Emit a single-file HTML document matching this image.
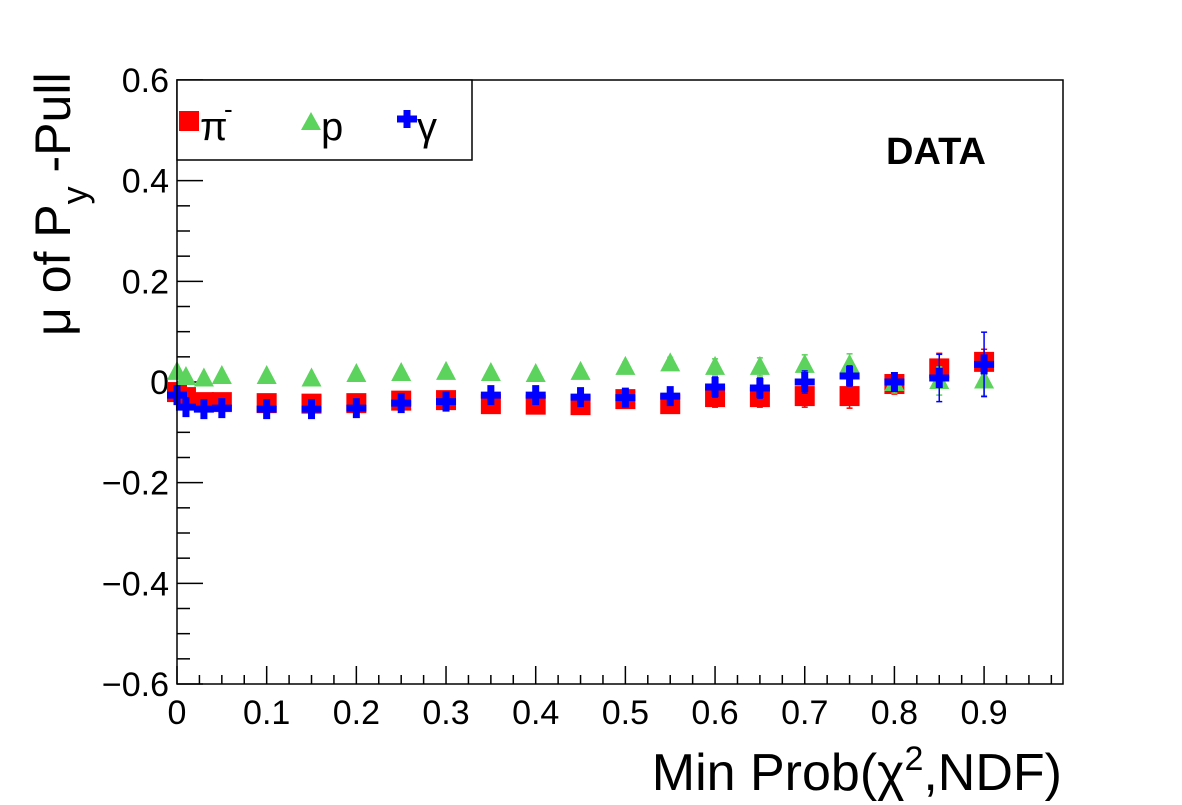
<!DOCTYPE html>
<html><head><meta charset="utf-8"><style>
html,body{margin:0;padding:0;background:#fff;}
svg{display:block;font-family:"Liberation Sans",sans-serif;}
</style></head><body>
<svg id="chart" width="1182" height="805" viewBox="0 0 1182 805" xmlns="http://www.w3.org/2000/svg">
<rect width="1182" height="805" fill="#fff"/>
<g id="axes"></g>
<g id="marks"></g>
<rect x="177" y="80" width="886" height="604" fill="none" stroke="#000" stroke-width="1.5"/>
<g>
<rect x="177" y="80" width="295" height="80" fill="#fff" stroke="#000" stroke-width="1.5"/>
<rect x="179" y="111" width="20" height="20" fill="#ff0000"/>
<text x="200" y="140" font-size="40">π</text>
<text x="224" y="118" font-size="26">-</text>
<polygon points="301,130 321,130 311,112" fill="#5cd35c"/>
<text x="321" y="140" font-size="40">p</text>
<path d="M397,119h20M407,110v18" stroke="#0000ff" stroke-width="7"/>
<text x="417" y="140" font-size="40">γ</text>
</g>
<text x="886" y="164" font-size="38" font-weight="bold">DATA</text>
<text x="1062" y="790" font-size="52" text-anchor="end">Min Prob(χ<tspan font-size="34" dy="-20">2</tspan><tspan dy="20">,NDF)</tspan></text>
<g transform="translate(70,80) rotate(-90)">
<text x="-256" y="0" font-size="50">μ of P<tspan font-size="36" dy="17">y</tspan><tspan dy="-17"> -Pull</tspan></text>
</g>
</svg>
<script>
const xVals=[0,0.01,0.03,0.05,0.1,0.15,0.2,0.25,0.3,0.35,0.4,0.45,0.5,0.55,0.6,0.65,0.7,0.75,0.8,0.85,0.9];
const piVals=[-0.02,-0.03,-0.04,-0.04,-0.042,-0.043,-0.042,-0.037,-0.036,-0.044,-0.045,-0.046,-0.034,-0.044,-0.03,-0.03,-0.028,-0.028,-0.004,0.027,0.04];
const piErr=[0.004,0.004,0.004,0.004,0.005,0.005,0.005,0.006,0.007,0.008,0.009,0.01,0.012,0.015,0.02,0.02,0.022,0.024,0.02,0.03,0.025];
const pVals=[0.02,0.01,0.007,0.012,0.012,0.007,0.016,0.018,0.02,0.018,0.016,0.02,0.03,0.037,0.03,0.03,0.034,0.034,-0.002,0.002,0.003];
const pErr=[0.003,0.003,0.003,0.003,0.004,0.004,0.004,0.005,0.005,0.006,0.007,0.008,0.01,0.012,0.016,0.018,0.02,0.022,0.02,0.028,0.03];
const gVals=[-0.026,-0.05,-0.054,-0.052,-0.054,-0.054,-0.052,-0.042,-0.039,-0.026,-0.026,-0.03,-0.031,-0.028,-0.01,-0.012,0,0.012,0,0.008,0.035];
const gErr=[0.004,0.004,0.004,0.004,0.005,0.005,0.006,0.006,0.007,0.008,0.009,0.01,0.012,0.014,0.02,0.02,0.022,0.02,0.018,0.047,0.064];
const xTicks=[0,0.1,0.2,0.3,0.4,0.5,0.6,0.7,0.8,0.9];
const yTicks=[-0.6,-0.4,-0.2,0,0.2,0.4,0.6];

const X0=177,X1=1063,Y0=684,Y1=80,XMAX=0.988,YMIN=-0.6,YMAX=0.6;
function sx(v){return X0+(v/XMAX)*(X1-X0);}
function sy(v){return Y0-(v-YMIN)/(YMAX-YMIN)*(Y0-Y1);}
const NS="http://www.w3.org/2000/svg";
function mk(tag,attrs,parent){const e=document.createElementNS(NS,tag);for(const k in attrs)e.setAttribute(k,attrs[k]);parent.appendChild(e);return e;}
const axes=document.getElementById('axes'),marks=document.getElementById('marks');

for(let i=0;i*0.025<=XMAX+1e-9;i++){
  const v=i*0.025,major=(i%4===0),x=sx(v);
  const t=mk('line',{x1:x,x2:x,y1:Y0,y2:Y0-(major?18:9),stroke:'#000','stroke-width':1.5},axes);
  
  
}
xTicks.forEach(v=>{
  const t=mk('text',{x:sx(v),y:724,'font-size':34,'text-anchor':'middle'},axes);
  t.textContent=(v===0?'0':v.toFixed(1));
  
  
});
for(let i=0;i<=24;i++){
  const v=YMIN+i*0.05,major=(i%4===0),y=sy(v);
  const t=mk('line',{x1:X0,x2:X0+(major?26:13),y1:y,y2:y,stroke:'#000','stroke-width':1.5},axes);
  
  
}
yTicks.forEach(v=>{
  const t=mk('text',{x:169,y:sy(v)+12,'font-size':34,'text-anchor':'end'},axes);
  t.textContent=(Math.abs(v)<1e-9?'0':(v<0?'\u2212'+Math.abs(v).toFixed(1):v.toFixed(1)));
  
  
});

function errBar(x,v,e,col){
  const g=mk('g',{stroke:col,'stroke-width':1.5},marks);
  
  
  const y1=sy(v+e),y2=sy(v-e);
  mk('line',{x1:x,x2:x,y1:y1,y2:y2},g);
  mk('line',{x1:x-3,x2:x+3,y1:y1,y2:y1},g);
  mk('line',{x1:x-3,x2:x+3,y1:y2,y2:y2},g);
}
xVals.forEach((xv,i)=>{
  const x=sx(xv),y=sy(piVals[i]);
  errBar(x,piVals[i],piErr[i],'#ff0000');
  const r=mk('rect',{x:x-10,y:y-10,width:20,height:20,fill:'#ff0000'},marks);
  
  
});
xVals.forEach((xv,i)=>{
  const x=sx(xv),y=sy(pVals[i]);
  errBar(x,pVals[i],pErr[i],'#5cd35c');
  const p=mk('polygon',{points:`${x-10},${y+8} ${x+10},${y+8} ${x},${y-11}`,fill:'#5cd35c'},marks);
  
  
});
xVals.forEach((xv,i)=>{
  const x=sx(xv),y=sy(gVals[i]);
  errBar(x,gVals[i],gErr[i],'#0000ff');
  const p=mk('path',{d:`M${x-10},${y}h20M${x},${y-10}v20`,stroke:'#0000ff','stroke-width':7},marks);
  
  
});
</script>
</body></html>
